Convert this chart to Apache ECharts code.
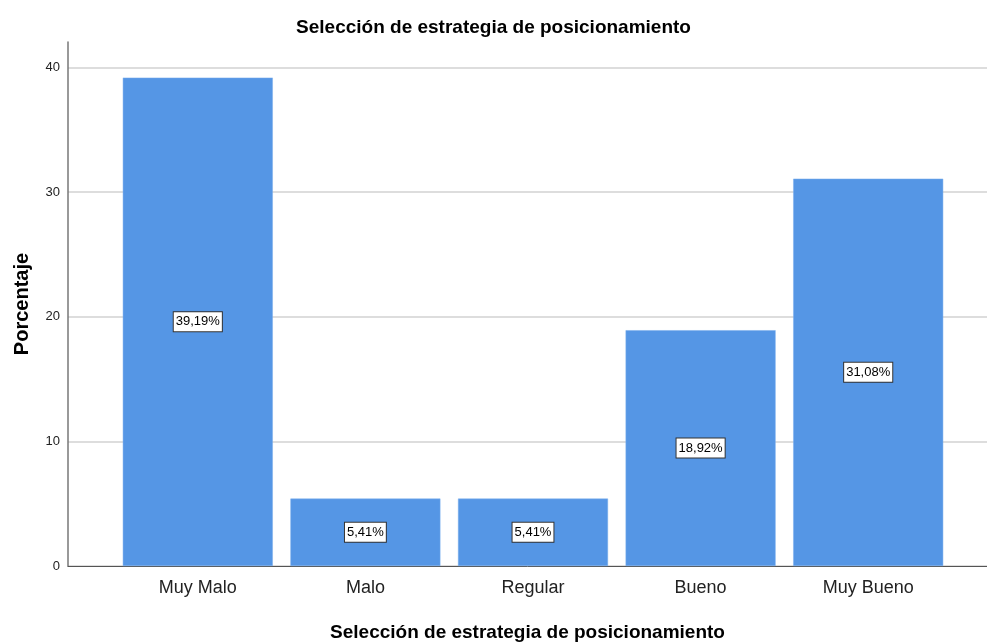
<!DOCTYPE html>
<html><head><meta charset="utf-8">
<script src="https://cdn.jsdelivr.net/npm/echarts@6/dist/echarts.min.js"></script>
<style>html,body{margin:0;padding:0;background:#fff}#c{width:987px;height:642px}</style>
</head><body><div id="c"></div>
<script>
const titleText = 'Selección de estrategia de posicionamiento';
const xAxisName = 'Selección de estrategia de posicionamiento';
const yAxisName = 'Porcentaje';
const categories = ['Muy Malo', 'Malo', 'Regular', 'Bueno', 'Muy Bueno'];
const percentages = [39.19, 5.41, 5.41, 18.92, 31.08];
const yTicks = [0, 10, 20, 30, 40];

const font = '"Liberation Sans", Arial, sans-serif';
const chart = echarts.init(document.getElementById('c'));
const yMax = 42.05;
chart.setOption({
  animation: false,
  title: {text: titleText, left: 'center', top: 13,
    textStyle: {fontFamily: font, fontSize: 19, fontWeight: 'bold', color: '#000'}},
  grid: [
    {left: 68, right: 0, top: 42, bottom: 76, containLabel: false, outerBoundsMode: 'none'},
    {left: 114, width: 838, top: 42, bottom: 76, containLabel: false, outerBoundsMode: 'none'}
  ],
  xAxis: [
    {type: 'value', gridIndex: 0, min: 0, max: 1,
      axisLine: {show: true, onZero: false, lineStyle: {color: '#555', width: 1}},
      axisTick: {show: false}, axisLabel: {show: false}, splitLine: {show: false},
      name: xAxisName, nameLocation: 'middle', nameGap: 57,
      nameTextStyle: {fontFamily: font, fontSize: 19, fontWeight: 'bold', color: '#000'}},
    {type: 'category', gridIndex: 1, data: categories,
      axisLine: {show: false}, axisTick: {show: false},
      axisLabel: {margin: 13, fontFamily: font, fontSize: 18, color: '#222'}}
  ],
  yAxis: [
    {type: 'value', gridIndex: 0, min: 0, max: yMax, interval: 10,
      axisLine: {show: true, lineStyle: {color: '#777', width: 1.5}},
      axisTick: {show: false},
      axisLabel: {margin: 8, fontFamily: font, fontSize: 13, color: '#222',
        padding: [4, 0, 0, 0],
        formatter: v => yTicks.includes(v) ? String(v) : ''},
      splitLine: {show: true, showMaxLine: false, lineStyle: {color: '#d2d2d2', width: 1.5}},
      name: yAxisName, nameLocation: 'middle', nameGap: 36, nameRotate: 90,
      nameTextStyle: {fontFamily: font, fontSize: 20, fontWeight: 'bold', color: '#000'}},
    {type: 'value', gridIndex: 1, min: 0, max: yMax, interval: 10, show: false}
  ],
  series: [{
    type: 'bar', xAxisIndex: 1, yAxisIndex: 1, data: percentages, barWidth: 150,
    itemStyle: {color: '#5596e5', borderColor: '#7aaeec', borderWidth: 0.5},
    label: {show: true, position: 'inside',
      formatter: p => p.value.toFixed(2).replace('.', ',') + '%',
      fontFamily: font, fontSize: 13, color: '#000',
      backgroundColor: '#fff', borderColor: '#333', borderWidth: 1,
      padding: [4, 2, 2, 2]}
  }]
});
</script></body></html>
